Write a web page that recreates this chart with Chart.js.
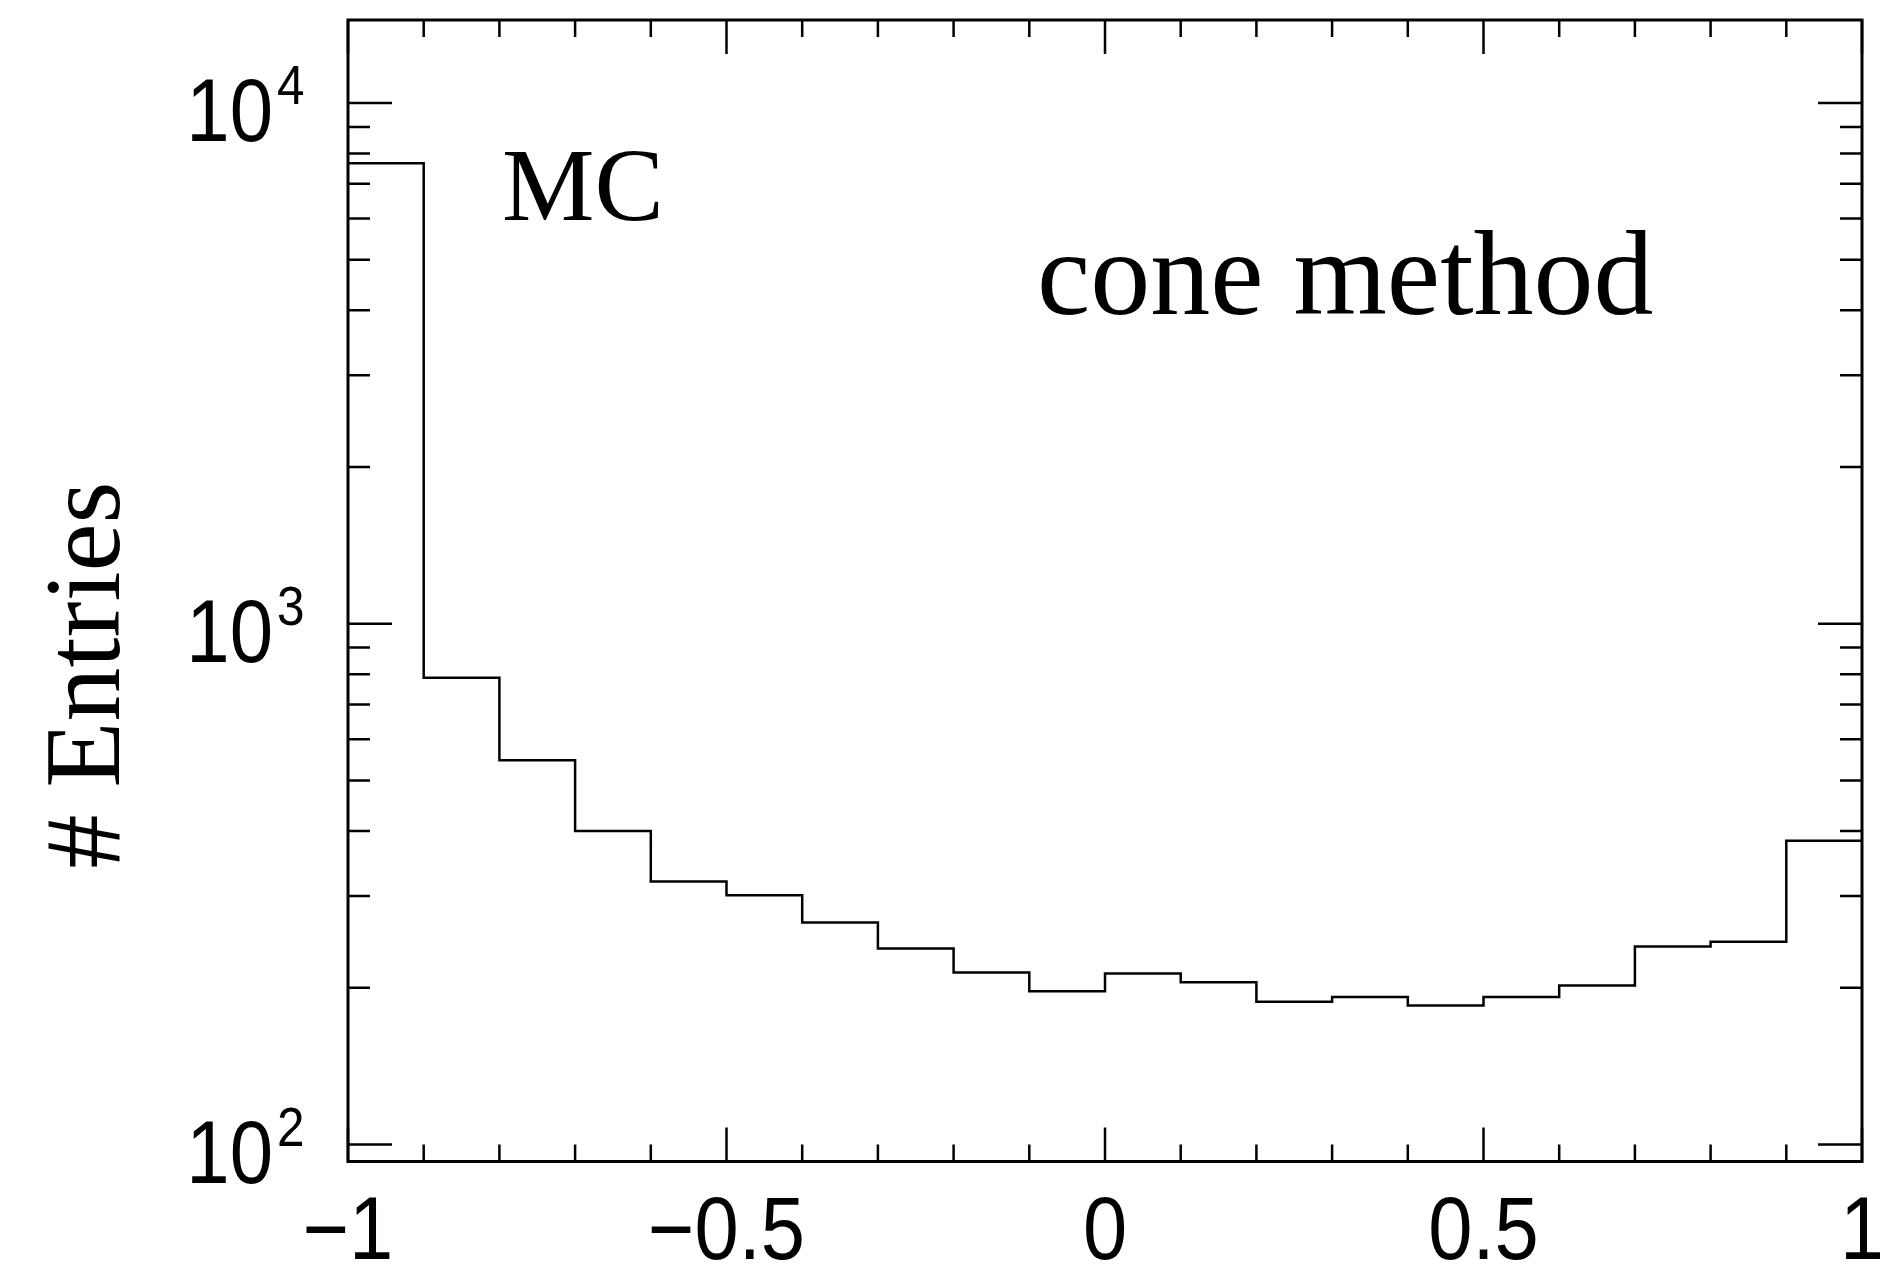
<!DOCTYPE html>
<html>
<head>
<meta charset="utf-8">
<script src="https://cdn.jsdelivr.net/npm/chart.js@4/dist/chart.umd.min.js"></script>
<style>
  html, body { margin: 0; padding: 0; background: #ffffff; }
  #wrap { width: 1880px; height: 1265px; position: relative; }
  canvas { display: block; }
</style>
</head>
<body>
<div id="wrap"><canvas id="c" width="1880" height="1265"></canvas></div>
<script>
// ---- data ----
const binEdges = [-1.0, -0.9, -0.8, -0.7, -0.6, -0.5, -0.4, -0.3, -0.2, -0.1, 0.0,
                  0.1, 0.2, 0.3, 0.4, 0.5, 0.6, 0.7, 0.8, 0.9, 1.0];
const entries = [7663, 788, 547, 400, 320, 301, 267, 238, 214, 197,
                 213, 205, 188, 192, 185, 192, 202, 240, 245, 383];
const xMajorTicks = [-1, -0.5, 0, 0.5, 1];
const xTickLabels = ['\u22121', '\u22120.5', '0', '0.5', '1'];
const xMinorTicks = [-0.9, -0.8, -0.7, -0.6, -0.4, -0.3, -0.2, -0.1,
                     0.1, 0.2, 0.3, 0.4, 0.6, 0.7, 0.8, 0.9];
const yMajorTicks = [100, 1000, 10000];
const yTickBase = '10';
const yTickExponents = ['2', '3', '4'];
const yMinorTicks = [200, 300, 400, 500, 600, 700, 800, 900,
                     2000, 3000, 4000, 5000, 6000, 7000, 8000, 9000];
const yMin = 92.76, yMax = 14440;
const yTitle = '# Entries';
const annotations = [
  { text: 'MC', x: 502, y: 220, size: 104 },
  { text: 'cone method', x: 1037, y: 314, size: 120 }
];

// histogram outline points: each bin's value starts at its low edge;
// the last value is repeated at the closing edge
const points = entries.map((v, i) => ({ x: binEdges[i], y: v }));
points.push({ x: binEdges[binEdges.length - 1], y: entries[entries.length - 1] });

const SANS = '"Liberation Sans", Arial, Helvetica, sans-serif';
const SERIF = '"Liberation Serif", "Times New Roman", Times, serif';

const framePlugin = {
  id: 'rootFrame',
  afterDraw(chart) {
    const ctx = chart.ctx;
    const a = chart.chartArea;
    const xs = chart.scales.x, ys = chart.scales.y;
    ctx.save();
    ctx.strokeStyle = '#000';
    ctx.fillStyle = '#000';

    // ticks
    ctx.lineWidth = 2.5;
    ctx.beginPath();
    const xt = (v, len) => {
      const px = xs.getPixelForValue(v);
      ctx.moveTo(px, a.bottom); ctx.lineTo(px, a.bottom - len);
      ctx.moveTo(px, a.top); ctx.lineTo(px, a.top + len);
    };
    xMajorTicks.forEach(v => xt(v, 34));
    xMinorTicks.forEach(v => xt(v, 17));
    const yt = (v, len) => {
      const py = ys.getPixelForValue(v);
      ctx.moveTo(a.left, py); ctx.lineTo(a.left + len, py);
      ctx.moveTo(a.right, py); ctx.lineTo(a.right - len, py);
    };
    yMajorTicks.forEach(v => yt(v, 44));
    yMinorTicks.forEach(v => yt(v, 22));
    ctx.stroke();

    // frame
    ctx.lineWidth = 3;
    ctx.strokeRect(a.left, a.top, a.right - a.left, a.bottom - a.top);

    // x labels
    ctx.font = '82px ' + SANS;
    ctx.textAlign = 'center';
    ctx.textBaseline = 'alphabetic';
    xMajorTicks.forEach((v, i) => {
      const px = xs.getPixelForValue(v);
      ctx.save();
      ctx.translate(px, 1259);
      ctx.scale(0.97, 1.08);
      ctx.fillText(xTickLabels[i], 0, 0);
      ctx.restore();
    });

    // y labels 10^n
    yMajorTicks.forEach((v, i) => {
      const py = ys.getPixelForValue(v);
      ctx.save();
      ctx.font = '82px ' + SANS;
      ctx.textAlign = 'right';
      ctx.translate(273, py + 38);
      ctx.scale(0.95, 1.08);
      ctx.fillText(yTickBase, 0, 0);
      ctx.restore();
      ctx.save();
      ctx.font = '52px ' + SANS;
      ctx.textAlign = 'left';
      ctx.translate(277, py + 1);
      ctx.scale(0.95, 1.08);
      ctx.fillText(yTickExponents[i], 0, 0);
      ctx.restore();
    });

    // y title
    ctx.save();
    ctx.font = '108px ' + SERIF;
    ctx.textAlign = 'center';
    ctx.textBaseline = 'alphabetic';
    ctx.translate(119, 675);
    ctx.rotate(-Math.PI / 2);
    ctx.fillText(yTitle, 0, 0);
    ctx.restore();

    // annotations
    annotations.forEach(t => {
      ctx.font = t.size + 'px ' + SERIF;
      ctx.textAlign = 'left';
      ctx.textBaseline = 'alphabetic';
      ctx.fillText(t.text, t.x, t.y);
    });
    ctx.restore();
  }
};

new Chart(document.getElementById('c'), {
  type: 'line',
  data: {
    datasets: [{
      data: points,
      stepped: 'before',
      borderColor: '#000',
      borderWidth: 2.5,
      pointRadius: 0,
      fill: false
    }]
  },
  options: {
    responsive: false,
    animation: false,
    devicePixelRatio: 1,
    layout: { padding: { left: 348, right: 18, top: 20, bottom: 103.5 } },
    scales: {
      x: { type: 'linear', min: -1, max: 1, display: false },
      y: { type: 'logarithmic', min: yMin, max: yMax, display: false }
    },
    plugins: { legend: { display: false }, tooltip: { enabled: false } }
  },
  plugins: [framePlugin]
});
</script>
</body>
</html>
